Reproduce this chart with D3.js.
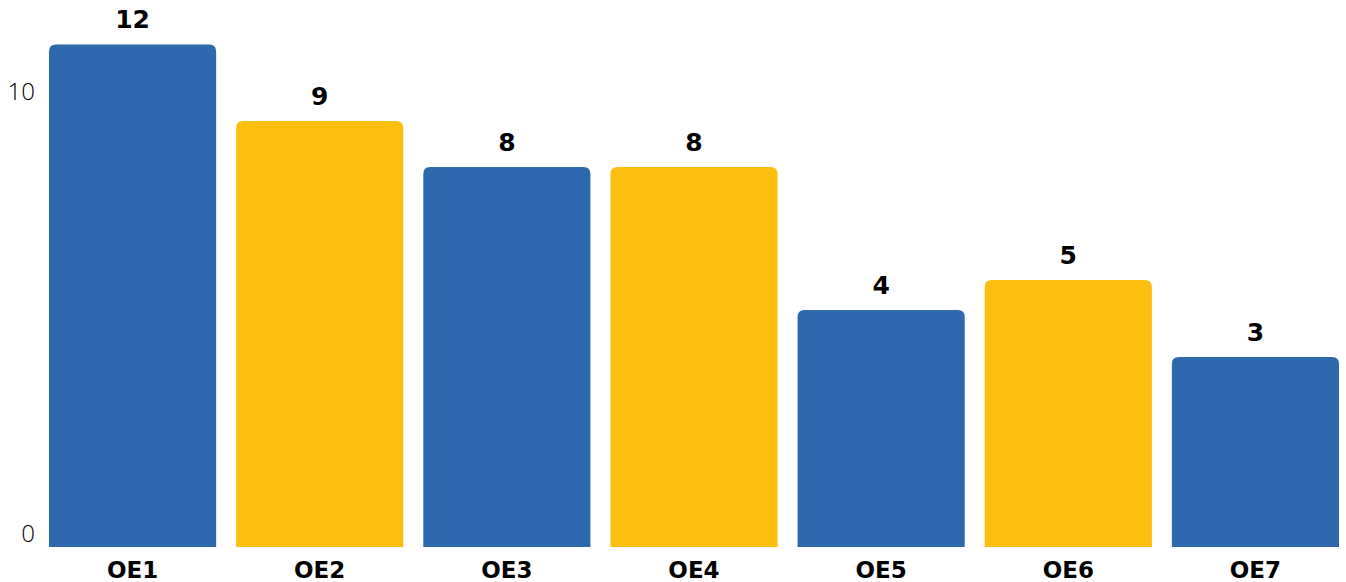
<!DOCTYPE html>
<html>
<head>
<meta charset="utf-8">
<script src="https://cdn.jsdelivr.net/npm/d3@7"></script>
<style>
    body { margin: 0; background: #fff; }
    svg { display: block; }
</style>
</head>
<body>
<div id="chart"></div>
<script>
const categories = ['OE1', 'OE2', 'OE3', 'OE4', 'OE5', 'OE6', 'OE7'];
// bar heights
const barValues = [11.37, 9.64, 8.6, 8.6, 5.36, 6.04, 4.3];
// numbers printed above each bar
const barLabels = [12, 9, 8, 8, 4, 5, 3];
const colors = ['#2e69ad', '#fcbf10'];
const yTicks = [0, 10];

const width = 1346;
const height = 582;
const baseline = 547;

const svg = d3.select('#chart')
    .append('svg')
    .attr('width', width)
    .attr('height', height);

const x = d3.scaleBand()
    .domain(categories)
    .range([49, 1339])
    .paddingInner(20 / 187)
    .paddingOuter(0);

const y = d3.scaleLinear()
    .domain([0, 10])
    .range([baseline, 105]);

function topRounded(x0, y0, w, h, r) {
    r = Math.min(r, h, w / 2);
    return `M${x0},${y0 + h}V${y0 + r}Q${x0},${y0} ${x0 + r},${y0}` +
        `H${x0 + w - r}Q${x0 + w},${y0} ${x0 + w},${y0 + r}V${y0 + h}Z`;
}

const data = categories.map((c, i) => ({ cat: c, value: barValues[i], label: barLabels[i], i: i }));

// y axis labels (no line, no tick marks)
svg.append('g')
    .selectAll('text')
    .data(yTicks)
    .enter()
    .append('text')
    .attr('x', 35)
    .attr('y', d => y(d) - 14)
    .attr('dy', '0.36em')
    .style('text-anchor', 'end')
    .style('font-family', '"Open Sans", sans-serif')
    .style('font-weight', 300)
    .style('font-size', '24px')
    .attr('fill', '#000')
    .text(d => d);

svg.append('g')
    .selectAll('path')
    .data(data)
    .enter()
    .append('path')
    .attr('d', d => topRounded(x(d.cat), y(d.value), x.bandwidth(), baseline - y(d.value), 7))
    .attr('fill', d => colors[d.i % 2]);

svg.append('g')
    .selectAll('text')
    .data(data)
    .enter()
    .append('text')
    .attr('x', d => x(d.cat) + x.bandwidth() / 2)
    .attr('y', d => y(d.value) - 25)
    .attr('dy', '0.36em')
    .style('text-anchor', 'middle')
    .style('font-family', '"DejaVu Sans", sans-serif')
    .style('font-weight', 'bold')
    .style('font-size', '25px')
    .attr('fill', '#000')
    .text(d => d.label);

const xAxis = svg.append('g')
    .attr('transform', `translate(0,${baseline})`)
    .call(d3.axisBottom(x).tickSize(0).tickPadding(0));

xAxis.select('.domain').remove();
xAxis.selectAll('text')
    .attr('y', 31)
    .attr('dy', null)
    .style('font-family', '"DejaVu Sans", sans-serif')
    .style('font-weight', 'bold')
    .style('font-size', '23px')
    .attr('fill', '#000');
</script>
</body>
</html>
